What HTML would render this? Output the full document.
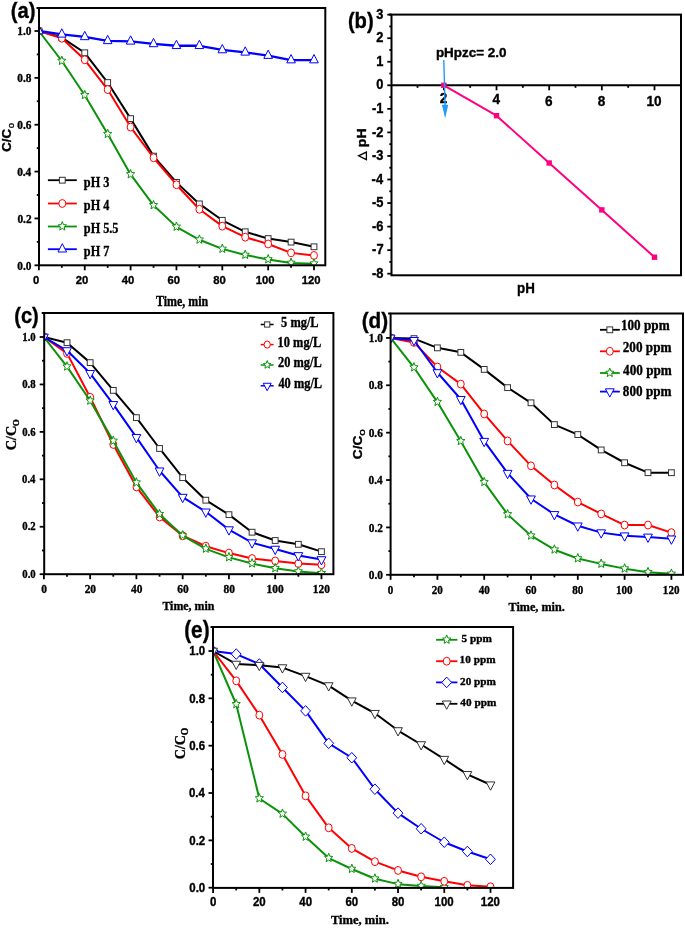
<!DOCTYPE html>
<html><head><meta charset="utf-8"><style>
html,body{margin:0;padding:0;background:#fff;}
svg{display:block;will-change:transform;}
</style></head><body>
<svg width="685" height="928" viewBox="0 0 685 928">
<rect width="685" height="928" fill="#fff"/>
<clipPath id="c1"><rect x="39.00" y="8.00" width="286.30" height="257.30"/></clipPath><g clip-path="url(#c1)">
<polyline points="38.90,31.00 61.83,37.56 84.75,52.79 107.68,82.55 130.60,118.63 153.53,156.12 176.45,182.36 199.38,203.91 222.30,220.31 245.22,231.80 268.15,238.59 291.07,242.10 314.00,246.79" fill="none" stroke="#000" stroke-width="2.0" stroke-linejoin="round"/>
<rect x="36.00" y="28.10" width="5.80" height="5.80" fill="#fff" stroke="#333" stroke-width="1"/>
<rect x="58.93" y="34.66" width="5.80" height="5.80" fill="#fff" stroke="#333" stroke-width="1"/>
<rect x="81.85" y="49.89" width="5.80" height="5.80" fill="#fff" stroke="#333" stroke-width="1"/>
<rect x="104.78" y="79.65" width="5.80" height="5.80" fill="#fff" stroke="#333" stroke-width="1"/>
<rect x="127.70" y="115.73" width="5.80" height="5.80" fill="#fff" stroke="#333" stroke-width="1"/>
<rect x="150.62" y="153.22" width="5.80" height="5.80" fill="#fff" stroke="#333" stroke-width="1"/>
<rect x="173.55" y="179.46" width="5.80" height="5.80" fill="#fff" stroke="#333" stroke-width="1"/>
<rect x="196.47" y="201.01" width="5.80" height="5.80" fill="#fff" stroke="#333" stroke-width="1"/>
<rect x="219.40" y="217.41" width="5.80" height="5.80" fill="#fff" stroke="#333" stroke-width="1"/>
<rect x="242.32" y="228.90" width="5.80" height="5.80" fill="#fff" stroke="#333" stroke-width="1"/>
<rect x="265.25" y="235.69" width="5.80" height="5.80" fill="#fff" stroke="#333" stroke-width="1"/>
<rect x="288.18" y="239.20" width="5.80" height="5.80" fill="#fff" stroke="#333" stroke-width="1"/>
<rect x="311.10" y="243.89" width="5.80" height="5.80" fill="#fff" stroke="#333" stroke-width="1"/>
<polyline points="38.90,31.00 61.83,38.26 84.75,59.82 107.68,89.57 130.60,127.06 153.53,157.76 176.45,184.70 199.38,209.30 222.30,226.17 245.22,237.18 268.15,243.98 291.07,252.88 314.00,255.46" fill="none" stroke="#FF0000" stroke-width="2.0" stroke-linejoin="round"/>
<ellipse cx="38.90" cy="31.00" rx="3.45" ry="3.95" fill="#fff" stroke="#FF0000" stroke-width="1"/>
<ellipse cx="61.83" cy="38.26" rx="3.45" ry="3.95" fill="#fff" stroke="#FF0000" stroke-width="1"/>
<ellipse cx="84.75" cy="59.82" rx="3.45" ry="3.95" fill="#fff" stroke="#FF0000" stroke-width="1"/>
<ellipse cx="107.68" cy="89.57" rx="3.45" ry="3.95" fill="#fff" stroke="#FF0000" stroke-width="1"/>
<ellipse cx="130.60" cy="127.06" rx="3.45" ry="3.95" fill="#fff" stroke="#FF0000" stroke-width="1"/>
<ellipse cx="153.53" cy="157.76" rx="3.45" ry="3.95" fill="#fff" stroke="#FF0000" stroke-width="1"/>
<ellipse cx="176.45" cy="184.70" rx="3.45" ry="3.95" fill="#fff" stroke="#FF0000" stroke-width="1"/>
<ellipse cx="199.38" cy="209.30" rx="3.45" ry="3.95" fill="#fff" stroke="#FF0000" stroke-width="1"/>
<ellipse cx="222.30" cy="226.17" rx="3.45" ry="3.95" fill="#fff" stroke="#FF0000" stroke-width="1"/>
<ellipse cx="245.22" cy="237.18" rx="3.45" ry="3.95" fill="#fff" stroke="#FF0000" stroke-width="1"/>
<ellipse cx="268.15" cy="243.98" rx="3.45" ry="3.95" fill="#fff" stroke="#FF0000" stroke-width="1"/>
<ellipse cx="291.07" cy="252.88" rx="3.45" ry="3.95" fill="#fff" stroke="#FF0000" stroke-width="1"/>
<ellipse cx="314.00" cy="255.46" rx="3.45" ry="3.95" fill="#fff" stroke="#FF0000" stroke-width="1"/>
<polyline points="38.90,31.00 61.83,60.99 84.75,95.20 107.68,134.09 130.60,174.39 153.53,205.32 176.45,226.87 199.38,239.76 222.30,248.90 245.22,254.99 268.15,259.44 291.07,262.96 314.00,263.66" fill="none" stroke="#0A930A" stroke-width="2.0" stroke-linejoin="round"/>
<polygon points="38.90,26.10 40.04,29.09 43.01,29.35 40.75,31.45 41.44,34.60 38.90,32.91 36.36,34.60 37.05,31.45 34.79,29.35 37.76,29.09" fill="#fff" stroke="#0A930A" stroke-width="1"/>
<polygon points="61.83,56.09 62.97,59.08 65.94,59.34 63.68,61.44 64.37,64.59 61.83,62.91 59.28,64.59 59.97,61.44 57.71,59.34 60.68,59.08" fill="#fff" stroke="#0A930A" stroke-width="1"/>
<polygon points="84.75,90.30 85.89,93.29 88.86,93.55 86.60,95.65 87.29,98.80 84.75,97.11 82.21,98.80 82.90,95.65 80.64,93.55 83.61,93.29" fill="#fff" stroke="#0A930A" stroke-width="1"/>
<polygon points="107.68,129.19 108.82,132.18 111.79,132.44 109.53,134.55 110.22,137.69 107.68,136.01 105.13,137.69 105.82,134.55 103.56,132.44 106.53,132.18" fill="#fff" stroke="#0A930A" stroke-width="1"/>
<polygon points="130.60,169.49 131.74,172.48 134.71,172.74 132.45,174.85 133.14,177.99 130.60,176.31 128.06,177.99 128.75,174.85 126.49,172.74 129.46,172.48" fill="#fff" stroke="#0A930A" stroke-width="1"/>
<polygon points="153.53,200.42 154.67,203.41 157.64,203.67 155.38,205.77 156.07,208.92 153.53,207.23 150.98,208.92 151.67,205.77 149.41,203.67 152.38,203.41" fill="#fff" stroke="#0A930A" stroke-width="1"/>
<polygon points="176.45,221.97 177.59,224.96 180.56,225.22 178.30,227.33 178.99,230.48 176.45,228.79 173.91,230.48 174.60,227.33 172.34,225.22 175.31,224.96" fill="#fff" stroke="#0A930A" stroke-width="1"/>
<polygon points="199.38,234.86 200.52,237.85 203.49,238.11 201.23,240.21 201.92,243.36 199.38,241.68 196.83,243.36 197.52,240.21 195.26,238.11 198.23,237.85" fill="#fff" stroke="#0A930A" stroke-width="1"/>
<polygon points="222.30,244.00 223.44,246.99 226.41,247.25 224.15,249.35 224.84,252.50 222.30,250.81 219.76,252.50 220.45,249.35 218.19,247.25 221.16,246.99" fill="#fff" stroke="#0A930A" stroke-width="1"/>
<polygon points="245.22,250.09 246.37,253.08 249.34,253.34 247.08,255.44 247.77,258.59 245.22,256.91 242.68,258.59 243.37,255.44 241.11,253.34 244.08,253.08" fill="#fff" stroke="#0A930A" stroke-width="1"/>
<polygon points="268.15,254.54 269.29,257.53 272.26,257.79 270.00,259.90 270.69,263.04 268.15,261.36 265.61,263.04 266.30,259.90 264.04,257.79 267.01,257.53" fill="#fff" stroke="#0A930A" stroke-width="1"/>
<polygon points="291.07,258.06 292.22,261.05 295.19,261.30 292.93,263.41 293.62,266.56 291.07,264.87 288.53,266.56 289.22,263.41 286.96,261.30 289.93,261.05" fill="#fff" stroke="#0A930A" stroke-width="1"/>
<polygon points="314.00,258.76 315.14,261.75 318.11,262.01 315.85,264.11 316.54,267.26 314.00,265.57 311.46,267.26 312.15,264.11 309.89,262.01 312.86,261.75" fill="#fff" stroke="#0A930A" stroke-width="1"/>
<polyline points="38.90,31.00 61.83,34.28 84.75,36.86 107.68,40.84 130.60,41.31 153.53,43.89 176.45,45.76 199.38,45.76 222.30,49.98 245.22,52.32 268.15,55.60 291.07,60.05 314.00,60.05" fill="none" stroke="#0000FF" stroke-width="2.3" stroke-linejoin="round"/>
<polygon points="38.90,25.50 43.20,33.80 34.60,33.80" fill="#fff" stroke="#0000FF" stroke-width="1"/>
<polygon points="61.83,28.78 66.12,37.08 57.53,37.08" fill="#fff" stroke="#0000FF" stroke-width="1"/>
<polygon points="84.75,31.36 89.05,39.66 80.45,39.66" fill="#fff" stroke="#0000FF" stroke-width="1"/>
<polygon points="107.68,35.34 111.98,43.64 103.38,43.64" fill="#fff" stroke="#0000FF" stroke-width="1"/>
<polygon points="130.60,35.81 134.90,44.11 126.30,44.11" fill="#fff" stroke="#0000FF" stroke-width="1"/>
<polygon points="153.53,38.39 157.83,46.69 149.22,46.69" fill="#fff" stroke="#0000FF" stroke-width="1"/>
<polygon points="176.45,40.26 180.75,48.56 172.15,48.56" fill="#fff" stroke="#0000FF" stroke-width="1"/>
<polygon points="199.38,40.26 203.68,48.56 195.07,48.56" fill="#fff" stroke="#0000FF" stroke-width="1"/>
<polygon points="222.30,44.48 226.60,52.78 218.00,52.78" fill="#fff" stroke="#0000FF" stroke-width="1"/>
<polygon points="245.22,46.82 249.53,55.12 240.92,55.12" fill="#fff" stroke="#0000FF" stroke-width="1"/>
<polygon points="268.15,50.10 272.45,58.40 263.85,58.40" fill="#fff" stroke="#0000FF" stroke-width="1"/>
<polygon points="291.07,54.55 295.38,62.85 286.77,62.85" fill="#fff" stroke="#0000FF" stroke-width="1"/>
<polygon points="314.00,54.55 318.30,62.85 309.70,62.85" fill="#fff" stroke="#0000FF" stroke-width="1"/>
</g>
<rect x="39.00" y="8.00" width="286.30" height="257.30" fill="none" stroke="#000" stroke-width="2"/>
<line x1="36.50" y1="8.00" x2="39.00" y2="8.00" stroke="#000" stroke-width="2" stroke-linecap="butt"/>
<line x1="38.90" y1="265.30" x2="38.90" y2="270.30" stroke="#000" stroke-width="1.8" stroke-linecap="butt"/>
<line x1="61.83" y1="265.30" x2="61.83" y2="267.80" stroke="#000" stroke-width="1.8" stroke-linecap="butt"/>
<line x1="84.75" y1="265.30" x2="84.75" y2="270.30" stroke="#000" stroke-width="1.8" stroke-linecap="butt"/>
<line x1="107.68" y1="265.30" x2="107.68" y2="267.80" stroke="#000" stroke-width="1.8" stroke-linecap="butt"/>
<line x1="130.60" y1="265.30" x2="130.60" y2="270.30" stroke="#000" stroke-width="1.8" stroke-linecap="butt"/>
<line x1="153.53" y1="265.30" x2="153.53" y2="267.80" stroke="#000" stroke-width="1.8" stroke-linecap="butt"/>
<line x1="176.45" y1="265.30" x2="176.45" y2="270.30" stroke="#000" stroke-width="1.8" stroke-linecap="butt"/>
<line x1="199.38" y1="265.30" x2="199.38" y2="267.80" stroke="#000" stroke-width="1.8" stroke-linecap="butt"/>
<line x1="222.30" y1="265.30" x2="222.30" y2="270.30" stroke="#000" stroke-width="1.8" stroke-linecap="butt"/>
<line x1="245.22" y1="265.30" x2="245.22" y2="267.80" stroke="#000" stroke-width="1.8" stroke-linecap="butt"/>
<line x1="268.15" y1="265.30" x2="268.15" y2="270.30" stroke="#000" stroke-width="1.8" stroke-linecap="butt"/>
<line x1="291.07" y1="265.30" x2="291.07" y2="267.80" stroke="#000" stroke-width="1.8" stroke-linecap="butt"/>
<line x1="314.00" y1="265.30" x2="314.00" y2="270.30" stroke="#000" stroke-width="1.8" stroke-linecap="butt"/>
<line x1="34.50" y1="265.30" x2="39.00" y2="265.30" stroke="#000" stroke-width="1.8" stroke-linecap="butt"/>
<line x1="36.80" y1="241.87" x2="39.00" y2="241.87" stroke="#000" stroke-width="1.8" stroke-linecap="butt"/>
<line x1="34.50" y1="218.44" x2="39.00" y2="218.44" stroke="#000" stroke-width="1.8" stroke-linecap="butt"/>
<line x1="36.80" y1="195.01" x2="39.00" y2="195.01" stroke="#000" stroke-width="1.8" stroke-linecap="butt"/>
<line x1="34.50" y1="171.58" x2="39.00" y2="171.58" stroke="#000" stroke-width="1.8" stroke-linecap="butt"/>
<line x1="36.80" y1="148.15" x2="39.00" y2="148.15" stroke="#000" stroke-width="1.8" stroke-linecap="butt"/>
<line x1="34.50" y1="124.72" x2="39.00" y2="124.72" stroke="#000" stroke-width="1.8" stroke-linecap="butt"/>
<line x1="36.80" y1="101.29" x2="39.00" y2="101.29" stroke="#000" stroke-width="1.8" stroke-linecap="butt"/>
<line x1="34.50" y1="77.86" x2="39.00" y2="77.86" stroke="#000" stroke-width="1.8" stroke-linecap="butt"/>
<line x1="36.80" y1="54.43" x2="39.00" y2="54.43" stroke="#000" stroke-width="1.8" stroke-linecap="butt"/>
<line x1="34.50" y1="31.00" x2="39.00" y2="31.00" stroke="#000" stroke-width="1.8" stroke-linecap="butt"/>
<text transform="translate(17.37,269.54) scale(0.963,1)" font-family="'Liberation Serif', serif" font-size="11.76" font-weight="bold" text-anchor="start" fill="#000" stroke="#000" stroke-width="0.35">0.0</text>
<text transform="translate(17.41,222.68) scale(0.963,1)" font-family="'Liberation Serif', serif" font-size="11.76" font-weight="bold" text-anchor="start" fill="#000" stroke="#000" stroke-width="0.35">0.2</text>
<text transform="translate(17.14,175.82) scale(0.963,1)" font-family="'Liberation Serif', serif" font-size="11.76" font-weight="bold" text-anchor="start" fill="#000" stroke="#000" stroke-width="0.35">0.4</text>
<text transform="translate(17.28,128.96) scale(0.963,1)" font-family="'Liberation Serif', serif" font-size="11.76" font-weight="bold" text-anchor="start" fill="#000" stroke="#000" stroke-width="0.35">0.6</text>
<text transform="translate(17.30,82.10) scale(0.963,1)" font-family="'Liberation Serif', serif" font-size="11.76" font-weight="bold" text-anchor="start" fill="#000" stroke="#000" stroke-width="0.35">0.8</text>
<text transform="translate(17.37,35.24) scale(0.963,1)" font-family="'Liberation Serif', serif" font-size="11.76" font-weight="bold" text-anchor="start" fill="#000" stroke="#000" stroke-width="0.35">1.0</text>
<text transform="translate(32.97,284.19) scale(0.998,1)" font-family="'Liberation Sans', sans-serif" font-size="11.3" font-weight="bold" text-anchor="start" fill="#000" stroke="#000" stroke-width="0.35">0</text>
<text transform="translate(75.72,284.19) scale(0.998,1)" font-family="'Liberation Sans', sans-serif" font-size="11.3" font-weight="bold" text-anchor="start" fill="#000" stroke="#000" stroke-width="0.35">20</text>
<text transform="translate(121.68,284.19) scale(0.998,1)" font-family="'Liberation Sans', sans-serif" font-size="11.3" font-weight="bold" text-anchor="start" fill="#000" stroke="#000" stroke-width="0.35">40</text>
<text transform="translate(167.41,284.19) scale(0.998,1)" font-family="'Liberation Sans', sans-serif" font-size="11.3" font-weight="bold" text-anchor="start" fill="#000" stroke="#000" stroke-width="0.35">60</text>
<text transform="translate(213.28,284.19) scale(0.998,1)" font-family="'Liberation Sans', sans-serif" font-size="11.3" font-weight="bold" text-anchor="start" fill="#000" stroke="#000" stroke-width="0.35">80</text>
<text transform="translate(255.83,284.19) scale(0.998,1)" font-family="'Liberation Sans', sans-serif" font-size="11.3" font-weight="bold" text-anchor="start" fill="#000" stroke="#000" stroke-width="0.35">100</text>
<text transform="translate(301.68,284.19) scale(0.998,1)" font-family="'Liberation Sans', sans-serif" font-size="11.3" font-weight="bold" text-anchor="start" fill="#000" stroke="#000" stroke-width="0.35">120</text>
<text transform="translate(10.79,17.71) scale(0.92,1)" font-family="'Liberation Sans', sans-serif" font-size="22.05" font-weight="bold" text-anchor="start" fill="#000" stroke="#000" stroke-width="0.35">(a)</text>
<text transform="translate(156.01,305.89) scale(0.884,1)" font-family="'Liberation Serif', serif" font-size="13.53" font-weight="bold" text-anchor="start" fill="#000" stroke="#000" stroke-width="0.35">Time, min</text>
<text transform="translate(10.94,151.83) rotate(-90) scale(1.037,1)" font-family="'Liberation Sans', sans-serif" font-size="12.77" font-weight="bold" text-anchor="start" fill="#000" stroke="#000" stroke-width="0.35">C/C</text>
<text transform="translate(13.91,128.30) rotate(-90) scale(1.088,1)" font-family="'Liberation Sans', sans-serif" font-size="8.76" font-weight="normal" text-anchor="start" fill="#000" stroke="#000" stroke-width="0.35">o</text>
<line x1="47.90" y1="180.20" x2="76.80" y2="180.20" stroke="#000" stroke-width="1.8" stroke-linecap="butt"/>
<rect x="59.40" y="177.30" width="5.80" height="5.80" fill="#fff" stroke="#333" stroke-width="1"/>
<line x1="47.90" y1="203.50" x2="76.80" y2="203.50" stroke="#FF0000" stroke-width="1.8" stroke-linecap="butt"/>
<ellipse cx="62.30" cy="203.50" rx="3.45" ry="3.95" fill="#fff" stroke="#FF0000" stroke-width="1"/>
<line x1="47.90" y1="226.50" x2="76.80" y2="226.50" stroke="#0A930A" stroke-width="1.8" stroke-linecap="butt"/>
<polygon points="62.30,221.60 63.44,224.59 66.41,224.85 64.15,226.95 64.84,230.10 62.30,228.42 59.76,230.10 60.45,226.95 58.19,224.85 61.16,224.59" fill="#fff" stroke="#0A930A" stroke-width="1"/>
<line x1="47.90" y1="249.20" x2="76.80" y2="249.20" stroke="#0000FF" stroke-width="1.8" stroke-linecap="butt"/>
<polygon points="62.30,243.70 66.60,252.00 58.00,252.00" fill="#fff" stroke="#0000FF" stroke-width="1"/>
<text transform="translate(83.85,186.60) scale(0.89,1)" font-family="'Liberation Serif', serif" font-size="13.73" font-weight="bold" text-anchor="start" fill="#000" stroke="#000" stroke-width="0.35">pH 3</text>
<text transform="translate(83.85,209.90) scale(0.89,1)" font-family="'Liberation Serif', serif" font-size="13.73" font-weight="bold" text-anchor="start" fill="#000" stroke="#000" stroke-width="0.35">pH 4</text>
<text transform="translate(83.85,232.90) scale(0.89,1)" font-family="'Liberation Serif', serif" font-size="13.73" font-weight="bold" text-anchor="start" fill="#000" stroke="#000" stroke-width="0.35">pH 5.5</text>
<text transform="translate(83.85,255.60) scale(0.89,1)" font-family="'Liberation Serif', serif" font-size="13.73" font-weight="bold" text-anchor="start" fill="#000" stroke="#000" stroke-width="0.35">pH 7</text>
<rect x="391.50" y="14.60" width="289.50" height="260.70" fill="none" stroke="#000" stroke-width="2"/>
<line x1="389.00" y1="14.60" x2="391.50" y2="14.60" stroke="#000" stroke-width="2" stroke-linecap="butt"/>
<line x1="391.50" y1="85.30" x2="681.00" y2="85.30" stroke="#000" stroke-width="2" stroke-linecap="butt"/>
<line x1="417.53" y1="85.30" x2="417.53" y2="87.80" stroke="#000" stroke-width="1.8" stroke-linecap="butt"/>
<line x1="443.86" y1="85.30" x2="443.86" y2="90.30" stroke="#000" stroke-width="1.8" stroke-linecap="butt"/>
<line x1="470.19" y1="85.30" x2="470.19" y2="87.80" stroke="#000" stroke-width="1.8" stroke-linecap="butt"/>
<line x1="496.52" y1="85.30" x2="496.52" y2="90.30" stroke="#000" stroke-width="1.8" stroke-linecap="butt"/>
<line x1="522.85" y1="85.30" x2="522.85" y2="87.80" stroke="#000" stroke-width="1.8" stroke-linecap="butt"/>
<line x1="549.18" y1="85.30" x2="549.18" y2="90.30" stroke="#000" stroke-width="1.8" stroke-linecap="butt"/>
<line x1="575.51" y1="85.30" x2="575.51" y2="87.80" stroke="#000" stroke-width="1.8" stroke-linecap="butt"/>
<line x1="601.84" y1="85.30" x2="601.84" y2="90.30" stroke="#000" stroke-width="1.8" stroke-linecap="butt"/>
<line x1="628.17" y1="85.30" x2="628.17" y2="87.80" stroke="#000" stroke-width="1.8" stroke-linecap="butt"/>
<line x1="654.50" y1="85.30" x2="654.50" y2="90.30" stroke="#000" stroke-width="1.8" stroke-linecap="butt"/>
<line x1="387.30" y1="273.70" x2="391.50" y2="273.70" stroke="#000" stroke-width="1.8" stroke-linecap="butt"/>
<line x1="389.30" y1="261.93" x2="391.50" y2="261.93" stroke="#000" stroke-width="1.8" stroke-linecap="butt"/>
<line x1="387.30" y1="250.15" x2="391.50" y2="250.15" stroke="#000" stroke-width="1.8" stroke-linecap="butt"/>
<line x1="389.30" y1="238.38" x2="391.50" y2="238.38" stroke="#000" stroke-width="1.8" stroke-linecap="butt"/>
<line x1="387.30" y1="226.60" x2="391.50" y2="226.60" stroke="#000" stroke-width="1.8" stroke-linecap="butt"/>
<line x1="389.30" y1="214.82" x2="391.50" y2="214.82" stroke="#000" stroke-width="1.8" stroke-linecap="butt"/>
<line x1="387.30" y1="203.05" x2="391.50" y2="203.05" stroke="#000" stroke-width="1.8" stroke-linecap="butt"/>
<line x1="389.30" y1="191.28" x2="391.50" y2="191.28" stroke="#000" stroke-width="1.8" stroke-linecap="butt"/>
<line x1="387.30" y1="179.50" x2="391.50" y2="179.50" stroke="#000" stroke-width="1.8" stroke-linecap="butt"/>
<line x1="389.30" y1="167.72" x2="391.50" y2="167.72" stroke="#000" stroke-width="1.8" stroke-linecap="butt"/>
<line x1="387.30" y1="155.95" x2="391.50" y2="155.95" stroke="#000" stroke-width="1.8" stroke-linecap="butt"/>
<line x1="389.30" y1="144.18" x2="391.50" y2="144.18" stroke="#000" stroke-width="1.8" stroke-linecap="butt"/>
<line x1="387.30" y1="132.40" x2="391.50" y2="132.40" stroke="#000" stroke-width="1.8" stroke-linecap="butt"/>
<line x1="389.30" y1="120.62" x2="391.50" y2="120.62" stroke="#000" stroke-width="1.8" stroke-linecap="butt"/>
<line x1="387.30" y1="108.85" x2="391.50" y2="108.85" stroke="#000" stroke-width="1.8" stroke-linecap="butt"/>
<line x1="389.30" y1="97.08" x2="391.50" y2="97.08" stroke="#000" stroke-width="1.8" stroke-linecap="butt"/>
<line x1="387.30" y1="85.30" x2="391.50" y2="85.30" stroke="#000" stroke-width="1.8" stroke-linecap="butt"/>
<line x1="389.30" y1="73.52" x2="391.50" y2="73.52" stroke="#000" stroke-width="1.8" stroke-linecap="butt"/>
<line x1="387.30" y1="61.75" x2="391.50" y2="61.75" stroke="#000" stroke-width="1.8" stroke-linecap="butt"/>
<line x1="389.30" y1="49.97" x2="391.50" y2="49.97" stroke="#000" stroke-width="1.8" stroke-linecap="butt"/>
<line x1="387.30" y1="38.20" x2="391.50" y2="38.20" stroke="#000" stroke-width="1.8" stroke-linecap="butt"/>
<line x1="389.30" y1="26.42" x2="391.50" y2="26.42" stroke="#000" stroke-width="1.8" stroke-linecap="butt"/>
<line x1="387.30" y1="14.65" x2="391.50" y2="14.65" stroke="#000" stroke-width="1.8" stroke-linecap="butt"/>
<text transform="translate(371.91,277.81) scale(0.922,1)" font-family="'Liberation Sans', sans-serif" font-size="13.98" font-weight="bold" text-anchor="start" fill="#000" stroke="#000" stroke-width="0.35">-8</text>
<text transform="translate(372.09,254.26) scale(0.922,1)" font-family="'Liberation Sans', sans-serif" font-size="13.98" font-weight="bold" text-anchor="start" fill="#000" stroke="#000" stroke-width="0.35">-7</text>
<text transform="translate(371.99,230.71) scale(0.922,1)" font-family="'Liberation Sans', sans-serif" font-size="13.98" font-weight="bold" text-anchor="start" fill="#000" stroke="#000" stroke-width="0.35">-6</text>
<text transform="translate(371.88,207.09) scale(0.922,1)" font-family="'Liberation Sans', sans-serif" font-size="13.98" font-weight="bold" text-anchor="start" fill="#000" stroke="#000" stroke-width="0.35">-5</text>
<text transform="translate(371.60,183.61) scale(0.922,1)" font-family="'Liberation Sans', sans-serif" font-size="13.98" font-weight="bold" text-anchor="start" fill="#000" stroke="#000" stroke-width="0.35">-4</text>
<text transform="translate(371.99,160.05) scale(0.922,1)" font-family="'Liberation Sans', sans-serif" font-size="13.98" font-weight="bold" text-anchor="start" fill="#000" stroke="#000" stroke-width="0.35">-3</text>
<text transform="translate(372.04,136.58) scale(0.922,1)" font-family="'Liberation Sans', sans-serif" font-size="13.98" font-weight="bold" text-anchor="start" fill="#000" stroke="#000" stroke-width="0.35">-2</text>
<text transform="translate(371.88,112.96) scale(0.922,1)" font-family="'Liberation Sans', sans-serif" font-size="13.98" font-weight="bold" text-anchor="start" fill="#000" stroke="#000" stroke-width="0.35">-1</text>
<text transform="translate(376.35,89.41) scale(0.922,1)" font-family="'Liberation Sans', sans-serif" font-size="13.98" font-weight="bold" text-anchor="start" fill="#000" stroke="#000" stroke-width="0.35">0</text>
<text transform="translate(376.19,65.86) scale(0.922,1)" font-family="'Liberation Sans', sans-serif" font-size="13.98" font-weight="bold" text-anchor="start" fill="#000" stroke="#000" stroke-width="0.35">1</text>
<text transform="translate(376.35,42.38) scale(0.922,1)" font-family="'Liberation Sans', sans-serif" font-size="13.98" font-weight="bold" text-anchor="start" fill="#000" stroke="#000" stroke-width="0.35">2</text>
<text transform="translate(376.29,18.75) scale(0.922,1)" font-family="'Liberation Sans', sans-serif" font-size="13.98" font-weight="bold" text-anchor="start" fill="#000" stroke="#000" stroke-width="0.35">3</text>
<text transform="translate(439.83,102.63) scale(0.942,1)" font-family="'Liberation Sans', sans-serif" font-size="14.41" font-weight="bold" text-anchor="start" fill="#000" stroke="#000" stroke-width="0.35">2</text>
<text transform="translate(492.39,104.26) scale(0.942,1)" font-family="'Liberation Sans', sans-serif" font-size="14.41" font-weight="bold" text-anchor="start" fill="#000" stroke="#000" stroke-width="0.35">4</text>
<text transform="translate(545.11,106.16) scale(0.942,1)" font-family="'Liberation Sans', sans-serif" font-size="14.41" font-weight="bold" text-anchor="start" fill="#000" stroke="#000" stroke-width="0.35">6</text>
<text transform="translate(597.76,106.36) scale(0.942,1)" font-family="'Liberation Sans', sans-serif" font-size="14.41" font-weight="bold" text-anchor="start" fill="#000" stroke="#000" stroke-width="0.35">8</text>
<text transform="translate(646.51,106.36) scale(0.942,1)" font-family="'Liberation Sans', sans-serif" font-size="14.41" font-weight="bold" text-anchor="start" fill="#000" stroke="#000" stroke-width="0.35">10</text>
<text transform="translate(347.89,28.04) scale(0.901,1)" font-family="'Liberation Sans', sans-serif" font-size="22.42" font-weight="bold" text-anchor="start" fill="#000" stroke="#000" stroke-width="0.35">(b)</text>
<text transform="translate(517.12,293.24) scale(0.907,1)" font-family="'Liberation Sans', sans-serif" font-size="14.73" font-weight="bold" text-anchor="start" fill="#000" stroke="#000" stroke-width="0.35">pH</text>
<text transform="translate(366.09,147.14) rotate(-90) scale(1.051,1)" font-family="'Liberation Sans', sans-serif" font-size="13.5" font-weight="bold" text-anchor="start" fill="#000" stroke="#000" stroke-width="0.35">pH</text>
<polygon points="366.4,152.1 366.4,159.6 358.6,155.85" fill="none" stroke="#000" stroke-width="1.3" stroke-linejoin="miter"/>
<text transform="translate(435.91,56.65) scale(1.096,1)" font-family="'Liberation Sans', sans-serif" font-size="12.25" font-weight="bold" text-anchor="start" fill="#000" stroke="#000" stroke-width="0.35">pHpzc= 2.0</text>
<polyline points="443.86,85.30 496.52,115.68 549.18,163.01 601.84,209.88 654.50,257.21" fill="none" stroke="#FF0080" stroke-width="2" stroke-linejoin="round"/>
<rect x="441.16" y="82.60" width="5.40" height="5.40" fill="#FF0080"/>
<rect x="493.82" y="112.98" width="5.40" height="5.40" fill="#FF0080"/>
<rect x="546.48" y="160.31" width="5.40" height="5.40" fill="#FF0080"/>
<rect x="599.14" y="207.18" width="5.40" height="5.40" fill="#FF0080"/>
<rect x="651.80" y="254.51" width="5.40" height="5.40" fill="#FF0080"/>
<line x1="443.80" y1="59.90" x2="445.10" y2="106.00" stroke="#1E9BFF" stroke-width="1.4" stroke-linecap="butt"/>
<polygon points="441.9,104.7 448.2,104.7 445.2,118.3" fill="#1E9BFF"/>
<clipPath id="c2"><rect x="44.20" y="313.00" width="289.20" height="261.20"/></clipPath><g clip-path="url(#c2)">
<polyline points="43.90,337.00 67.03,342.69 90.16,362.62 113.29,390.37 136.42,417.65 159.55,448.48 182.68,477.66 205.81,500.19 228.94,514.66 252.07,532.22 275.20,540.52 298.33,544.31 321.46,551.67" fill="none" stroke="#000" stroke-width="2.0" stroke-linejoin="round"/>
<rect x="41.00" y="334.10" width="5.80" height="5.80" fill="#fff" stroke="#333" stroke-width="1"/>
<rect x="64.13" y="339.79" width="5.80" height="5.80" fill="#fff" stroke="#333" stroke-width="1"/>
<rect x="87.26" y="359.72" width="5.80" height="5.80" fill="#fff" stroke="#333" stroke-width="1"/>
<rect x="110.39" y="387.47" width="5.80" height="5.80" fill="#fff" stroke="#333" stroke-width="1"/>
<rect x="133.52" y="414.75" width="5.80" height="5.80" fill="#fff" stroke="#333" stroke-width="1"/>
<rect x="156.65" y="445.58" width="5.80" height="5.80" fill="#fff" stroke="#333" stroke-width="1"/>
<rect x="179.78" y="474.76" width="5.80" height="5.80" fill="#fff" stroke="#333" stroke-width="1"/>
<rect x="202.91" y="497.29" width="5.80" height="5.80" fill="#fff" stroke="#333" stroke-width="1"/>
<rect x="226.04" y="511.76" width="5.80" height="5.80" fill="#fff" stroke="#333" stroke-width="1"/>
<rect x="249.17" y="529.32" width="5.80" height="5.80" fill="#fff" stroke="#333" stroke-width="1"/>
<rect x="272.30" y="537.62" width="5.80" height="5.80" fill="#fff" stroke="#333" stroke-width="1"/>
<rect x="295.43" y="541.41" width="5.80" height="5.80" fill="#fff" stroke="#333" stroke-width="1"/>
<rect x="318.56" y="548.77" width="5.80" height="5.80" fill="#fff" stroke="#333" stroke-width="1"/>
<polyline points="43.90,337.00 67.03,353.37 90.16,397.25 113.29,444.45 136.42,486.91 159.55,517.03 182.68,535.77 205.81,546.21 228.94,553.09 252.07,558.54 275.20,560.92 298.33,563.53 321.46,564.71" fill="none" stroke="#FF0000" stroke-width="2.0" stroke-linejoin="round"/>
<ellipse cx="43.90" cy="337.00" rx="3.45" ry="3.95" fill="#fff" stroke="#FF0000" stroke-width="1"/>
<ellipse cx="67.03" cy="353.37" rx="3.45" ry="3.95" fill="#fff" stroke="#FF0000" stroke-width="1"/>
<ellipse cx="90.16" cy="397.25" rx="3.45" ry="3.95" fill="#fff" stroke="#FF0000" stroke-width="1"/>
<ellipse cx="113.29" cy="444.45" rx="3.45" ry="3.95" fill="#fff" stroke="#FF0000" stroke-width="1"/>
<ellipse cx="136.42" cy="486.91" rx="3.45" ry="3.95" fill="#fff" stroke="#FF0000" stroke-width="1"/>
<ellipse cx="159.55" cy="517.03" rx="3.45" ry="3.95" fill="#fff" stroke="#FF0000" stroke-width="1"/>
<ellipse cx="182.68" cy="535.77" rx="3.45" ry="3.95" fill="#fff" stroke="#FF0000" stroke-width="1"/>
<ellipse cx="205.81" cy="546.21" rx="3.45" ry="3.95" fill="#fff" stroke="#FF0000" stroke-width="1"/>
<ellipse cx="228.94" cy="553.09" rx="3.45" ry="3.95" fill="#fff" stroke="#FF0000" stroke-width="1"/>
<ellipse cx="252.07" cy="558.54" rx="3.45" ry="3.95" fill="#fff" stroke="#FF0000" stroke-width="1"/>
<ellipse cx="275.20" cy="560.92" rx="3.45" ry="3.95" fill="#fff" stroke="#FF0000" stroke-width="1"/>
<ellipse cx="298.33" cy="563.53" rx="3.45" ry="3.95" fill="#fff" stroke="#FF0000" stroke-width="1"/>
<ellipse cx="321.46" cy="564.71" rx="3.45" ry="3.95" fill="#fff" stroke="#FF0000" stroke-width="1"/>
<polyline points="43.90,337.00 67.03,366.65 90.16,400.81 113.29,440.89 136.42,482.64 159.55,514.19 182.68,535.54 205.81,548.82 228.94,557.36 252.07,563.53 275.20,568.27 298.33,571.59 321.46,573.25" fill="none" stroke="#0A930A" stroke-width="2.0" stroke-linejoin="round"/>
<polygon points="43.90,332.10 45.04,335.09 48.01,335.35 45.75,337.45 46.44,340.60 43.90,338.92 41.36,340.60 42.05,337.45 39.79,335.35 42.76,335.09" fill="#fff" stroke="#0A930A" stroke-width="1"/>
<polygon points="67.03,361.75 68.17,364.74 71.14,365.00 68.88,367.10 69.57,370.25 67.03,368.57 64.49,370.25 65.18,367.10 62.92,365.00 65.89,364.74" fill="#fff" stroke="#0A930A" stroke-width="1"/>
<polygon points="90.16,395.91 91.30,398.90 94.27,399.15 92.01,401.26 92.70,404.41 90.16,402.72 87.62,404.41 88.31,401.26 86.05,399.15 89.02,398.90" fill="#fff" stroke="#0A930A" stroke-width="1"/>
<polygon points="113.29,435.99 114.43,438.98 117.40,439.24 115.14,441.35 115.83,444.50 113.29,442.81 110.75,444.50 111.44,441.35 109.18,439.24 112.15,438.98" fill="#fff" stroke="#0A930A" stroke-width="1"/>
<polygon points="136.42,477.74 137.56,480.73 140.53,480.99 138.27,483.09 138.96,486.24 136.42,484.56 133.88,486.24 134.57,483.09 132.31,480.99 135.28,480.73" fill="#fff" stroke="#0A930A" stroke-width="1"/>
<polygon points="159.55,509.29 160.69,512.28 163.66,512.54 161.40,514.64 162.09,517.79 159.55,516.10 157.01,517.79 157.70,514.64 155.44,512.54 158.41,512.28" fill="#fff" stroke="#0A930A" stroke-width="1"/>
<polygon points="182.68,530.64 183.82,533.63 186.79,533.88 184.53,535.99 185.22,539.14 182.68,537.45 180.14,539.14 180.83,535.99 178.57,533.88 181.54,533.63" fill="#fff" stroke="#0A930A" stroke-width="1"/>
<polygon points="205.81,543.92 206.95,546.91 209.92,547.17 207.66,549.27 208.35,552.42 205.81,550.73 203.27,552.42 203.96,549.27 201.70,547.17 204.67,546.91" fill="#fff" stroke="#0A930A" stroke-width="1"/>
<polygon points="228.94,552.46 230.08,555.45 233.05,555.71 230.79,557.81 231.48,560.96 228.94,559.27 226.40,560.96 227.09,557.81 224.83,555.71 227.80,555.45" fill="#fff" stroke="#0A930A" stroke-width="1"/>
<polygon points="252.07,558.63 253.21,561.61 256.18,561.87 253.92,563.98 254.61,567.13 252.07,565.44 249.53,567.13 250.22,563.98 247.96,561.87 250.93,561.61" fill="#fff" stroke="#0A930A" stroke-width="1"/>
<polygon points="275.20,563.37 276.34,566.36 279.31,566.62 277.05,568.72 277.74,571.87 275.20,570.19 272.66,571.87 273.35,568.72 271.09,566.62 274.06,566.36" fill="#fff" stroke="#0A930A" stroke-width="1"/>
<polygon points="298.33,566.69 299.47,569.68 302.44,569.94 300.18,572.04 300.87,575.19 298.33,573.51 295.79,575.19 296.48,572.04 294.22,569.94 297.19,569.68" fill="#fff" stroke="#0A930A" stroke-width="1"/>
<polygon points="321.46,568.35 322.60,571.34 325.57,571.60 323.31,573.70 324.00,576.85 321.46,575.17 318.92,576.85 319.61,573.70 317.35,571.60 320.32,571.34" fill="#fff" stroke="#0A930A" stroke-width="1"/>
<polyline points="43.90,337.00 67.03,350.52 90.16,373.29 113.29,404.36 136.42,437.34 159.55,470.78 182.68,497.11 205.81,511.82 228.94,529.61 252.07,542.65 275.20,549.06 298.33,555.46 321.46,559.49" fill="none" stroke="#0000FF" stroke-width="2.0" stroke-linejoin="round"/>
<polygon points="39.50,334.20 48.30,334.20 43.90,342.50" fill="#fff" stroke="#0000FF" stroke-width="1"/>
<polygon points="62.63,347.72 71.43,347.72 67.03,356.02" fill="#fff" stroke="#0000FF" stroke-width="1"/>
<polygon points="85.76,370.49 94.56,370.49 90.16,378.79" fill="#fff" stroke="#0000FF" stroke-width="1"/>
<polygon points="108.89,401.56 117.69,401.56 113.29,409.86" fill="#fff" stroke="#0000FF" stroke-width="1"/>
<polygon points="132.02,434.54 140.82,434.54 136.42,442.84" fill="#fff" stroke="#0000FF" stroke-width="1"/>
<polygon points="155.15,467.98 163.95,467.98 159.55,476.28" fill="#fff" stroke="#0000FF" stroke-width="1"/>
<polygon points="178.28,494.31 187.08,494.31 182.68,502.61" fill="#fff" stroke="#0000FF" stroke-width="1"/>
<polygon points="201.41,509.02 210.21,509.02 205.81,517.32" fill="#fff" stroke="#0000FF" stroke-width="1"/>
<polygon points="224.54,526.81 233.34,526.81 228.94,535.11" fill="#fff" stroke="#0000FF" stroke-width="1"/>
<polygon points="247.67,539.85 256.47,539.85 252.07,548.15" fill="#fff" stroke="#0000FF" stroke-width="1"/>
<polygon points="270.80,546.26 279.60,546.26 275.20,554.56" fill="#fff" stroke="#0000FF" stroke-width="1"/>
<polygon points="293.93,552.66 302.73,552.66 298.33,560.96" fill="#fff" stroke="#0000FF" stroke-width="1"/>
<polygon points="317.06,556.69 325.86,556.69 321.46,564.99" fill="#fff" stroke="#0000FF" stroke-width="1"/>
</g>
<rect x="44.20" y="313.00" width="289.20" height="261.20" fill="none" stroke="#000" stroke-width="2"/>
<line x1="41.70" y1="313.00" x2="44.20" y2="313.00" stroke="#000" stroke-width="2" stroke-linecap="butt"/>
<line x1="43.90" y1="574.20" x2="43.90" y2="579.20" stroke="#000" stroke-width="1.8" stroke-linecap="butt"/>
<line x1="67.03" y1="574.20" x2="67.03" y2="576.70" stroke="#000" stroke-width="1.8" stroke-linecap="butt"/>
<line x1="90.16" y1="574.20" x2="90.16" y2="579.20" stroke="#000" stroke-width="1.8" stroke-linecap="butt"/>
<line x1="113.29" y1="574.20" x2="113.29" y2="576.70" stroke="#000" stroke-width="1.8" stroke-linecap="butt"/>
<line x1="136.42" y1="574.20" x2="136.42" y2="579.20" stroke="#000" stroke-width="1.8" stroke-linecap="butt"/>
<line x1="159.55" y1="574.20" x2="159.55" y2="576.70" stroke="#000" stroke-width="1.8" stroke-linecap="butt"/>
<line x1="182.68" y1="574.20" x2="182.68" y2="579.20" stroke="#000" stroke-width="1.8" stroke-linecap="butt"/>
<line x1="205.81" y1="574.20" x2="205.81" y2="576.70" stroke="#000" stroke-width="1.8" stroke-linecap="butt"/>
<line x1="228.94" y1="574.20" x2="228.94" y2="579.20" stroke="#000" stroke-width="1.8" stroke-linecap="butt"/>
<line x1="252.07" y1="574.20" x2="252.07" y2="576.70" stroke="#000" stroke-width="1.8" stroke-linecap="butt"/>
<line x1="275.20" y1="574.20" x2="275.20" y2="579.20" stroke="#000" stroke-width="1.8" stroke-linecap="butt"/>
<line x1="298.33" y1="574.20" x2="298.33" y2="576.70" stroke="#000" stroke-width="1.8" stroke-linecap="butt"/>
<line x1="321.46" y1="574.20" x2="321.46" y2="579.20" stroke="#000" stroke-width="1.8" stroke-linecap="butt"/>
<line x1="39.70" y1="574.20" x2="44.20" y2="574.20" stroke="#000" stroke-width="1.8" stroke-linecap="butt"/>
<line x1="42.00" y1="550.48" x2="44.20" y2="550.48" stroke="#000" stroke-width="1.8" stroke-linecap="butt"/>
<line x1="39.70" y1="526.76" x2="44.20" y2="526.76" stroke="#000" stroke-width="1.8" stroke-linecap="butt"/>
<line x1="42.00" y1="503.04" x2="44.20" y2="503.04" stroke="#000" stroke-width="1.8" stroke-linecap="butt"/>
<line x1="39.70" y1="479.32" x2="44.20" y2="479.32" stroke="#000" stroke-width="1.8" stroke-linecap="butt"/>
<line x1="42.00" y1="455.60" x2="44.20" y2="455.60" stroke="#000" stroke-width="1.8" stroke-linecap="butt"/>
<line x1="39.70" y1="431.88" x2="44.20" y2="431.88" stroke="#000" stroke-width="1.8" stroke-linecap="butt"/>
<line x1="42.00" y1="408.16" x2="44.20" y2="408.16" stroke="#000" stroke-width="1.8" stroke-linecap="butt"/>
<line x1="39.70" y1="384.44" x2="44.20" y2="384.44" stroke="#000" stroke-width="1.8" stroke-linecap="butt"/>
<line x1="42.00" y1="360.72" x2="44.20" y2="360.72" stroke="#000" stroke-width="1.8" stroke-linecap="butt"/>
<line x1="39.70" y1="337.00" x2="44.20" y2="337.00" stroke="#000" stroke-width="1.8" stroke-linecap="butt"/>
<text transform="translate(22.28,577.93) scale(0.891,1)" font-family="'Liberation Serif', serif" font-size="12.06" font-weight="bold" text-anchor="start" fill="#000" stroke="#000" stroke-width="0.35">0.0</text>
<text transform="translate(22.32,530.49) scale(0.891,1)" font-family="'Liberation Serif', serif" font-size="12.06" font-weight="bold" text-anchor="start" fill="#000" stroke="#000" stroke-width="0.35">0.2</text>
<text transform="translate(22.06,483.05) scale(0.891,1)" font-family="'Liberation Serif', serif" font-size="12.06" font-weight="bold" text-anchor="start" fill="#000" stroke="#000" stroke-width="0.35">0.4</text>
<text transform="translate(22.19,435.61) scale(0.891,1)" font-family="'Liberation Serif', serif" font-size="12.06" font-weight="bold" text-anchor="start" fill="#000" stroke="#000" stroke-width="0.35">0.6</text>
<text transform="translate(22.21,388.17) scale(0.891,1)" font-family="'Liberation Serif', serif" font-size="12.06" font-weight="bold" text-anchor="start" fill="#000" stroke="#000" stroke-width="0.35">0.8</text>
<text transform="translate(22.28,340.73) scale(0.891,1)" font-family="'Liberation Serif', serif" font-size="12.06" font-weight="bold" text-anchor="start" fill="#000" stroke="#000" stroke-width="0.35">1.0</text>
<text transform="translate(41.24,592.98) scale(0.942,1)" font-family="'Liberation Serif', serif" font-size="12.13" font-weight="bold" text-anchor="start" fill="#000" stroke="#000" stroke-width="0.35">0</text>
<text transform="translate(84.63,592.98) scale(0.942,1)" font-family="'Liberation Serif', serif" font-size="12.13" font-weight="bold" text-anchor="start" fill="#000" stroke="#000" stroke-width="0.35">20</text>
<text transform="translate(131.05,592.98) scale(0.942,1)" font-family="'Liberation Serif', serif" font-size="12.13" font-weight="bold" text-anchor="start" fill="#000" stroke="#000" stroke-width="0.35">40</text>
<text transform="translate(177.19,592.98) scale(0.942,1)" font-family="'Liberation Serif', serif" font-size="12.13" font-weight="bold" text-anchor="start" fill="#000" stroke="#000" stroke-width="0.35">60</text>
<text transform="translate(223.45,592.98) scale(0.942,1)" font-family="'Liberation Serif', serif" font-size="12.13" font-weight="bold" text-anchor="start" fill="#000" stroke="#000" stroke-width="0.35">80</text>
<text transform="translate(266.59,592.98) scale(0.942,1)" font-family="'Liberation Serif', serif" font-size="12.13" font-weight="bold" text-anchor="start" fill="#000" stroke="#000" stroke-width="0.35">100</text>
<text transform="translate(312.85,592.98) scale(0.942,1)" font-family="'Liberation Serif', serif" font-size="12.13" font-weight="bold" text-anchor="start" fill="#000" stroke="#000" stroke-width="0.35">120</text>
<text transform="translate(14.19,323.37) scale(0.884,1)" font-family="'Liberation Sans', sans-serif" font-size="22.75" font-weight="bold" text-anchor="start" fill="#000" stroke="#000" stroke-width="0.35">(c)</text>
<text transform="translate(162.41,610.12) scale(0.936,1)" font-family="'Liberation Serif', serif" font-size="12.71" font-weight="bold" text-anchor="start" fill="#000" stroke="#000" stroke-width="0.35">Time, min</text>
<text transform="translate(16.26,450.29) rotate(-90) scale(1.058,1)" font-family="'Liberation Serif', serif" font-size="13.54" font-weight="bold" text-anchor="start" fill="#000" stroke="#000" stroke-width="0.35">C/C</text>
<text transform="translate(19.32,426.33) rotate(-90) scale(1.156,1)" font-family="'Liberation Serif', serif" font-size="7.74" font-weight="bold" text-anchor="start" fill="#000" stroke="#000" stroke-width="0.35">O</text>
<line x1="260.70" y1="324.50" x2="273.60" y2="324.50" stroke="#000" stroke-width="1.5" stroke-linecap="butt"/>
<rect x="264.59" y="321.89" width="5.22" height="5.22" fill="#fff" stroke="#333" stroke-width="1"/>
<line x1="260.70" y1="344.60" x2="273.60" y2="344.60" stroke="#FF0000" stroke-width="1.5" stroke-linecap="butt"/>
<ellipse cx="267.20" cy="344.60" rx="3.11" ry="3.56" fill="#fff" stroke="#FF0000" stroke-width="1"/>
<line x1="260.70" y1="365.00" x2="273.60" y2="365.00" stroke="#0A930A" stroke-width="1.5" stroke-linecap="butt"/>
<polygon points="267.20,360.59 268.23,363.28 270.90,363.51 268.87,365.41 269.49,368.24 267.20,366.72 264.91,368.24 265.53,365.41 263.50,363.51 266.17,363.28" fill="#fff" stroke="#0A930A" stroke-width="1"/>
<line x1="260.70" y1="385.80" x2="273.60" y2="385.80" stroke="#0000FF" stroke-width="1.5" stroke-linecap="butt"/>
<polygon points="263.24,383.28 271.16,383.28 267.20,390.75" fill="#fff" stroke="#0000FF" stroke-width="1"/>
<text transform="translate(281.10,326.70) scale(0.885,1)" font-family="'Liberation Serif', serif" font-size="14.0" font-weight="bold" text-anchor="start" fill="#000" stroke="#000" stroke-width="0.35">5 mg/L</text>
<text transform="translate(277.61,347.10) scale(0.885,1)" font-family="'Liberation Serif', serif" font-size="14.0" font-weight="bold" text-anchor="start" fill="#000" stroke="#000" stroke-width="0.35">10 mg/L</text>
<text transform="translate(278.08,367.40) scale(0.885,1)" font-family="'Liberation Serif', serif" font-size="14.0" font-weight="bold" text-anchor="start" fill="#000" stroke="#000" stroke-width="0.35">20 mg/L</text>
<text transform="translate(278.43,388.20) scale(0.885,1)" font-family="'Liberation Serif', serif" font-size="14.0" font-weight="bold" text-anchor="start" fill="#000" stroke="#000" stroke-width="0.35">40 mg/L</text>
<clipPath id="c3"><rect x="390.60" y="313.50" width="292.40" height="261.30"/></clipPath><g clip-path="url(#c3)">
<polyline points="390.60,337.90 414.00,338.61 437.40,347.85 460.80,352.35 484.20,369.41 507.60,387.65 531.00,402.81 554.40,424.61 577.80,434.56 601.20,449.95 624.60,462.75 648.00,472.70 671.40,472.70" fill="none" stroke="#000" stroke-width="2.0" stroke-linejoin="round"/>
<rect x="387.70" y="335.00" width="5.80" height="5.80" fill="#fff" stroke="#333" stroke-width="1"/>
<rect x="411.10" y="335.71" width="5.80" height="5.80" fill="#fff" stroke="#333" stroke-width="1"/>
<rect x="434.50" y="344.95" width="5.80" height="5.80" fill="#fff" stroke="#333" stroke-width="1"/>
<rect x="457.90" y="349.45" width="5.80" height="5.80" fill="#fff" stroke="#333" stroke-width="1"/>
<rect x="481.30" y="366.51" width="5.80" height="5.80" fill="#fff" stroke="#333" stroke-width="1"/>
<rect x="504.70" y="384.75" width="5.80" height="5.80" fill="#fff" stroke="#333" stroke-width="1"/>
<rect x="528.10" y="399.91" width="5.80" height="5.80" fill="#fff" stroke="#333" stroke-width="1"/>
<rect x="551.50" y="421.71" width="5.80" height="5.80" fill="#fff" stroke="#333" stroke-width="1"/>
<rect x="574.90" y="431.66" width="5.80" height="5.80" fill="#fff" stroke="#333" stroke-width="1"/>
<rect x="598.30" y="447.05" width="5.80" height="5.80" fill="#fff" stroke="#333" stroke-width="1"/>
<rect x="621.70" y="459.85" width="5.80" height="5.80" fill="#fff" stroke="#333" stroke-width="1"/>
<rect x="645.10" y="469.80" width="5.80" height="5.80" fill="#fff" stroke="#333" stroke-width="1"/>
<rect x="668.50" y="469.80" width="5.80" height="5.80" fill="#fff" stroke="#333" stroke-width="1"/>
<polyline points="390.60,337.90 414.00,342.40 437.40,367.04 460.80,384.10 484.20,413.94 507.60,440.95 531.00,465.83 554.40,485.01 577.80,502.07 601.20,513.92 624.60,525.05 648.00,525.05 671.40,532.63" fill="none" stroke="#FF0000" stroke-width="2.0" stroke-linejoin="round"/>
<ellipse cx="390.60" cy="337.90" rx="3.45" ry="3.95" fill="#fff" stroke="#FF0000" stroke-width="1"/>
<ellipse cx="414.00" cy="342.40" rx="3.45" ry="3.95" fill="#fff" stroke="#FF0000" stroke-width="1"/>
<ellipse cx="437.40" cy="367.04" rx="3.45" ry="3.95" fill="#fff" stroke="#FF0000" stroke-width="1"/>
<ellipse cx="460.80" cy="384.10" rx="3.45" ry="3.95" fill="#fff" stroke="#FF0000" stroke-width="1"/>
<ellipse cx="484.20" cy="413.94" rx="3.45" ry="3.95" fill="#fff" stroke="#FF0000" stroke-width="1"/>
<ellipse cx="507.60" cy="440.95" rx="3.45" ry="3.95" fill="#fff" stroke="#FF0000" stroke-width="1"/>
<ellipse cx="531.00" cy="465.83" rx="3.45" ry="3.95" fill="#fff" stroke="#FF0000" stroke-width="1"/>
<ellipse cx="554.40" cy="485.01" rx="3.45" ry="3.95" fill="#fff" stroke="#FF0000" stroke-width="1"/>
<ellipse cx="577.80" cy="502.07" rx="3.45" ry="3.95" fill="#fff" stroke="#FF0000" stroke-width="1"/>
<ellipse cx="601.20" cy="513.92" rx="3.45" ry="3.95" fill="#fff" stroke="#FF0000" stroke-width="1"/>
<ellipse cx="624.60" cy="525.05" rx="3.45" ry="3.95" fill="#fff" stroke="#FF0000" stroke-width="1"/>
<ellipse cx="648.00" cy="525.05" rx="3.45" ry="3.95" fill="#fff" stroke="#FF0000" stroke-width="1"/>
<ellipse cx="671.40" cy="532.63" rx="3.45" ry="3.95" fill="#fff" stroke="#FF0000" stroke-width="1"/>
<polyline points="390.60,337.90 414.00,367.51 437.40,402.10 460.80,441.19 484.20,482.17 507.60,514.39 531.00,535.71 554.40,549.69 577.80,558.45 601.20,563.90 624.60,568.64 648.00,572.19 671.40,573.85" fill="none" stroke="#0A930A" stroke-width="2.0" stroke-linejoin="round"/>
<polygon points="390.60,333.00 391.74,335.99 394.71,336.25 392.45,338.35 393.14,341.50 390.60,339.81 388.06,341.50 388.75,338.35 386.49,336.25 389.46,335.99" fill="#fff" stroke="#0A930A" stroke-width="1"/>
<polygon points="414.00,362.61 415.14,365.60 418.11,365.86 415.85,367.97 416.54,371.11 414.00,369.43 411.46,371.11 412.15,367.97 409.89,365.86 412.86,365.60" fill="#fff" stroke="#0A930A" stroke-width="1"/>
<polygon points="437.40,397.20 438.54,400.19 441.51,400.45 439.25,402.55 439.94,405.70 437.40,404.01 434.86,405.70 435.55,402.55 433.29,400.45 436.26,400.19" fill="#fff" stroke="#0A930A" stroke-width="1"/>
<polygon points="460.80,436.29 461.94,439.28 464.91,439.54 462.65,441.64 463.34,444.79 460.80,443.10 458.26,444.79 458.95,441.64 456.69,439.54 459.66,439.28" fill="#fff" stroke="#0A930A" stroke-width="1"/>
<polygon points="484.20,477.27 485.34,480.26 488.31,480.52 486.05,482.63 486.74,485.77 484.20,484.09 481.66,485.77 482.35,482.63 480.09,480.52 483.06,480.26" fill="#fff" stroke="#0A930A" stroke-width="1"/>
<polygon points="507.60,509.49 508.74,512.48 511.71,512.74 509.45,514.84 510.14,517.99 507.60,516.31 505.06,517.99 505.75,514.84 503.49,512.74 506.46,512.48" fill="#fff" stroke="#0A930A" stroke-width="1"/>
<polygon points="531.00,530.81 532.14,533.80 535.11,534.06 532.85,536.17 533.54,539.31 531.00,537.63 528.46,539.31 529.15,536.17 526.89,534.06 529.86,533.80" fill="#fff" stroke="#0A930A" stroke-width="1"/>
<polygon points="554.40,544.79 555.54,547.78 558.51,548.04 556.25,550.14 556.94,553.29 554.40,551.60 551.86,553.29 552.55,550.14 550.29,548.04 553.26,547.78" fill="#fff" stroke="#0A930A" stroke-width="1"/>
<polygon points="577.80,553.55 578.94,556.54 581.91,556.80 579.65,558.91 580.34,562.06 577.80,560.37 575.26,562.06 575.95,558.91 573.69,556.80 576.66,556.54" fill="#fff" stroke="#0A930A" stroke-width="1"/>
<polygon points="601.20,559.00 602.34,561.99 605.31,562.25 603.05,564.36 603.74,567.50 601.20,565.82 598.66,567.50 599.35,564.36 597.09,562.25 600.06,561.99" fill="#fff" stroke="#0A930A" stroke-width="1"/>
<polygon points="624.60,563.74 625.74,566.73 628.71,566.99 626.45,569.09 627.14,572.24 624.60,570.56 622.06,572.24 622.75,569.09 620.49,566.99 623.46,566.73" fill="#fff" stroke="#0A930A" stroke-width="1"/>
<polygon points="648.00,567.29 649.14,570.28 652.11,570.54 649.85,572.65 650.54,575.80 648.00,574.11 645.46,575.80 646.15,572.65 643.89,570.54 646.86,570.28" fill="#fff" stroke="#0A930A" stroke-width="1"/>
<polygon points="671.40,568.95 672.54,571.94 675.51,572.20 673.25,574.31 673.94,577.45 671.40,575.77 668.86,577.45 669.55,574.31 667.29,572.20 670.26,571.94" fill="#fff" stroke="#0A930A" stroke-width="1"/>
<polyline points="390.60,337.90 414.00,340.27 437.40,372.49 460.80,399.26 484.20,441.19 507.60,473.17 531.00,498.76 554.40,514.39 577.80,525.76 601.20,532.63 624.60,535.71 648.00,536.90 671.40,538.79" fill="none" stroke="#0000FF" stroke-width="2.0" stroke-linejoin="round"/>
<polygon points="386.20,335.10 395.00,335.10 390.60,343.40" fill="#fff" stroke="#0000FF" stroke-width="1"/>
<polygon points="409.60,337.47 418.40,337.47 414.00,345.77" fill="#fff" stroke="#0000FF" stroke-width="1"/>
<polygon points="433.00,369.69 441.80,369.69 437.40,377.99" fill="#fff" stroke="#0000FF" stroke-width="1"/>
<polygon points="456.40,396.46 465.20,396.46 460.80,404.76" fill="#fff" stroke="#0000FF" stroke-width="1"/>
<polygon points="479.80,438.39 488.60,438.39 484.20,446.69" fill="#fff" stroke="#0000FF" stroke-width="1"/>
<polygon points="503.20,470.37 512.00,470.37 507.60,478.67" fill="#fff" stroke="#0000FF" stroke-width="1"/>
<polygon points="526.60,495.96 535.40,495.96 531.00,504.26" fill="#fff" stroke="#0000FF" stroke-width="1"/>
<polygon points="550.00,511.59 558.80,511.59 554.40,519.89" fill="#fff" stroke="#0000FF" stroke-width="1"/>
<polygon points="573.40,522.96 582.20,522.96 577.80,531.26" fill="#fff" stroke="#0000FF" stroke-width="1"/>
<polygon points="596.80,529.83 605.60,529.83 601.20,538.13" fill="#fff" stroke="#0000FF" stroke-width="1"/>
<polygon points="620.20,532.91 629.00,532.91 624.60,541.21" fill="#fff" stroke="#0000FF" stroke-width="1"/>
<polygon points="643.60,534.10 652.40,534.10 648.00,542.40" fill="#fff" stroke="#0000FF" stroke-width="1"/>
<polygon points="667.00,535.99 675.80,535.99 671.40,544.29" fill="#fff" stroke="#0000FF" stroke-width="1"/>
</g>
<rect x="390.60" y="313.50" width="292.40" height="261.30" fill="none" stroke="#000" stroke-width="2"/>
<line x1="388.10" y1="313.50" x2="390.60" y2="313.50" stroke="#000" stroke-width="2" stroke-linecap="butt"/>
<line x1="390.60" y1="574.80" x2="390.60" y2="579.80" stroke="#000" stroke-width="1.8" stroke-linecap="butt"/>
<line x1="414.00" y1="574.80" x2="414.00" y2="577.30" stroke="#000" stroke-width="1.8" stroke-linecap="butt"/>
<line x1="437.40" y1="574.80" x2="437.40" y2="579.80" stroke="#000" stroke-width="1.8" stroke-linecap="butt"/>
<line x1="460.80" y1="574.80" x2="460.80" y2="577.30" stroke="#000" stroke-width="1.8" stroke-linecap="butt"/>
<line x1="484.20" y1="574.80" x2="484.20" y2="579.80" stroke="#000" stroke-width="1.8" stroke-linecap="butt"/>
<line x1="507.60" y1="574.80" x2="507.60" y2="577.30" stroke="#000" stroke-width="1.8" stroke-linecap="butt"/>
<line x1="531.00" y1="574.80" x2="531.00" y2="579.80" stroke="#000" stroke-width="1.8" stroke-linecap="butt"/>
<line x1="554.40" y1="574.80" x2="554.40" y2="577.30" stroke="#000" stroke-width="1.8" stroke-linecap="butt"/>
<line x1="577.80" y1="574.80" x2="577.80" y2="579.80" stroke="#000" stroke-width="1.8" stroke-linecap="butt"/>
<line x1="601.20" y1="574.80" x2="601.20" y2="577.30" stroke="#000" stroke-width="1.8" stroke-linecap="butt"/>
<line x1="624.60" y1="574.80" x2="624.60" y2="579.80" stroke="#000" stroke-width="1.8" stroke-linecap="butt"/>
<line x1="648.00" y1="574.80" x2="648.00" y2="577.30" stroke="#000" stroke-width="1.8" stroke-linecap="butt"/>
<line x1="671.40" y1="574.80" x2="671.40" y2="579.80" stroke="#000" stroke-width="1.8" stroke-linecap="butt"/>
<line x1="386.10" y1="574.80" x2="390.60" y2="574.80" stroke="#000" stroke-width="1.8" stroke-linecap="butt"/>
<line x1="388.40" y1="551.11" x2="390.60" y2="551.11" stroke="#000" stroke-width="1.8" stroke-linecap="butt"/>
<line x1="386.10" y1="527.42" x2="390.60" y2="527.42" stroke="#000" stroke-width="1.8" stroke-linecap="butt"/>
<line x1="388.40" y1="503.73" x2="390.60" y2="503.73" stroke="#000" stroke-width="1.8" stroke-linecap="butt"/>
<line x1="386.10" y1="480.04" x2="390.60" y2="480.04" stroke="#000" stroke-width="1.8" stroke-linecap="butt"/>
<line x1="388.40" y1="456.35" x2="390.60" y2="456.35" stroke="#000" stroke-width="1.8" stroke-linecap="butt"/>
<line x1="386.10" y1="432.66" x2="390.60" y2="432.66" stroke="#000" stroke-width="1.8" stroke-linecap="butt"/>
<line x1="388.40" y1="408.97" x2="390.60" y2="408.97" stroke="#000" stroke-width="1.8" stroke-linecap="butt"/>
<line x1="386.10" y1="385.28" x2="390.60" y2="385.28" stroke="#000" stroke-width="1.8" stroke-linecap="butt"/>
<line x1="388.40" y1="361.59" x2="390.60" y2="361.59" stroke="#000" stroke-width="1.8" stroke-linecap="butt"/>
<line x1="386.10" y1="337.90" x2="390.60" y2="337.90" stroke="#000" stroke-width="1.8" stroke-linecap="butt"/>
<text transform="translate(368.76,578.88) scale(0.907,1)" font-family="'Liberation Serif', serif" font-size="12.5" font-weight="bold" text-anchor="start" fill="#000" stroke="#000" stroke-width="0.35">0.0</text>
<text transform="translate(368.81,531.50) scale(0.907,1)" font-family="'Liberation Serif', serif" font-size="12.5" font-weight="bold" text-anchor="start" fill="#000" stroke="#000" stroke-width="0.35">0.2</text>
<text transform="translate(368.53,484.11) scale(0.907,1)" font-family="'Liberation Serif', serif" font-size="12.5" font-weight="bold" text-anchor="start" fill="#000" stroke="#000" stroke-width="0.35">0.4</text>
<text transform="translate(368.67,436.73) scale(0.907,1)" font-family="'Liberation Serif', serif" font-size="12.5" font-weight="bold" text-anchor="start" fill="#000" stroke="#000" stroke-width="0.35">0.6</text>
<text transform="translate(368.69,389.35) scale(0.907,1)" font-family="'Liberation Serif', serif" font-size="12.5" font-weight="bold" text-anchor="start" fill="#000" stroke="#000" stroke-width="0.35">0.8</text>
<text transform="translate(368.76,341.97) scale(0.907,1)" font-family="'Liberation Serif', serif" font-size="12.5" font-weight="bold" text-anchor="start" fill="#000" stroke="#000" stroke-width="0.35">1.0</text>
<text transform="translate(387.83,593.58) scale(0.893,1)" font-family="'Liberation Serif', serif" font-size="12.43" font-weight="bold" text-anchor="start" fill="#000" stroke="#000" stroke-width="0.35">0</text>
<text transform="translate(431.83,593.58) scale(0.893,1)" font-family="'Liberation Serif', serif" font-size="12.43" font-weight="bold" text-anchor="start" fill="#000" stroke="#000" stroke-width="0.35">20</text>
<text transform="translate(478.78,593.58) scale(0.893,1)" font-family="'Liberation Serif', serif" font-size="12.43" font-weight="bold" text-anchor="start" fill="#000" stroke="#000" stroke-width="0.35">40</text>
<text transform="translate(525.47,593.58) scale(0.893,1)" font-family="'Liberation Serif', serif" font-size="12.43" font-weight="bold" text-anchor="start" fill="#000" stroke="#000" stroke-width="0.35">60</text>
<text transform="translate(572.27,593.58) scale(0.893,1)" font-family="'Liberation Serif', serif" font-size="12.43" font-weight="bold" text-anchor="start" fill="#000" stroke="#000" stroke-width="0.35">80</text>
<text transform="translate(616.04,593.58) scale(0.893,1)" font-family="'Liberation Serif', serif" font-size="12.43" font-weight="bold" text-anchor="start" fill="#000" stroke="#000" stroke-width="0.35">100</text>
<text transform="translate(662.84,593.58) scale(0.893,1)" font-family="'Liberation Serif', serif" font-size="12.43" font-weight="bold" text-anchor="start" fill="#000" stroke="#000" stroke-width="0.35">120</text>
<text transform="translate(361.66,327.57) scale(0.911,1)" font-family="'Liberation Sans', sans-serif" font-size="22.75" font-weight="bold" text-anchor="start" fill="#000" stroke="#000" stroke-width="0.35">(d)</text>
<text transform="translate(508.51,610.67) scale(0.985,1)" font-family="'Liberation Serif', serif" font-size="12.35" font-weight="bold" text-anchor="start" fill="#000" stroke="#000" stroke-width="0.35">Time, min.</text>
<text transform="translate(361.53,459.14) rotate(-90) scale(1.018,1)" font-family="'Liberation Sans', sans-serif" font-size="13.31" font-weight="bold" text-anchor="start" fill="#000" stroke="#000" stroke-width="0.35">C/C</text>
<text transform="translate(365.21,435.80) rotate(-90) scale(1.355,1)" font-family="'Liberation Sans', sans-serif" font-size="8.76" font-weight="normal" text-anchor="start" fill="#000" stroke="#000" stroke-width="0.35">o</text>
<line x1="600.00" y1="329.80" x2="619.80" y2="329.80" stroke="#000" stroke-width="1.8" stroke-linecap="butt"/>
<rect x="606.90" y="326.90" width="5.80" height="5.80" fill="#fff" stroke="#333" stroke-width="1"/>
<line x1="600.00" y1="351.30" x2="619.80" y2="351.30" stroke="#FF0000" stroke-width="1.8" stroke-linecap="butt"/>
<ellipse cx="609.80" cy="351.30" rx="3.45" ry="3.95" fill="#fff" stroke="#FF0000" stroke-width="1"/>
<line x1="600.00" y1="373.00" x2="619.80" y2="373.00" stroke="#0A930A" stroke-width="1.8" stroke-linecap="butt"/>
<polygon points="609.80,368.10 610.94,371.09 613.91,371.35 611.65,373.45 612.34,376.60 609.80,374.92 607.26,376.60 607.95,373.45 605.69,371.35 608.66,371.09" fill="#fff" stroke="#0A930A" stroke-width="1"/>
<line x1="600.00" y1="391.60" x2="619.80" y2="391.60" stroke="#0000FF" stroke-width="1.8" stroke-linecap="butt"/>
<polygon points="605.40,388.80 614.20,388.80 609.80,397.10" fill="#fff" stroke="#0000FF" stroke-width="1"/>
<text transform="translate(620.94,330.40) scale(0.92,1)" font-family="'Liberation Serif', serif" font-size="14.35" font-weight="bold" text-anchor="start" fill="#000" stroke="#000" stroke-width="0.35">100 ppm</text>
<text transform="translate(622.75,352.10) scale(0.92,1)" font-family="'Liberation Serif', serif" font-size="14.35" font-weight="bold" text-anchor="start" fill="#000" stroke="#000" stroke-width="0.35">200 ppm</text>
<text transform="translate(623.12,374.50) scale(0.92,1)" font-family="'Liberation Serif', serif" font-size="14.35" font-weight="bold" text-anchor="start" fill="#000" stroke="#000" stroke-width="0.35">400 ppm</text>
<text transform="translate(622.85,395.60) scale(0.92,1)" font-family="'Liberation Serif', serif" font-size="14.35" font-weight="bold" text-anchor="start" fill="#000" stroke="#000" stroke-width="0.35">800 ppm</text>
<clipPath id="c4"><rect x="213.00" y="627.00" width="300.10" height="260.90"/></clipPath><g clip-path="url(#c4)">
<polyline points="213.10,651.00 236.22,704.26 259.33,798.46 282.45,813.85 305.57,836.81 328.69,858.11 351.80,869.00 374.92,878.71 398.04,884.15 421.15,886.04 444.27,887.23" fill="none" stroke="#0A930A" stroke-width="2.0" stroke-linejoin="round"/>
<polygon points="213.10,646.10 214.24,649.09 217.21,649.35 214.95,651.45 215.64,654.60 213.10,652.91 210.56,654.60 211.25,651.45 208.99,649.35 211.96,649.09" fill="#fff" stroke="#0A930A" stroke-width="1"/>
<polygon points="236.22,699.36 237.36,702.35 240.33,702.61 238.07,704.71 238.76,707.86 236.22,706.17 233.68,707.86 234.37,704.71 232.10,702.61 235.07,702.35" fill="#fff" stroke="#0A930A" stroke-width="1"/>
<polygon points="259.33,793.56 260.48,796.55 263.45,796.81 261.18,798.92 261.88,802.07 259.33,800.38 256.79,802.07 257.48,798.92 255.22,796.81 258.19,796.55" fill="#fff" stroke="#0A930A" stroke-width="1"/>
<polygon points="282.45,808.95 283.59,811.94 286.56,812.20 284.30,814.30 284.99,817.45 282.45,815.76 279.91,817.45 280.60,814.30 278.34,812.20 281.31,811.94" fill="#fff" stroke="#0A930A" stroke-width="1"/>
<polygon points="305.57,831.91 306.71,834.90 309.68,835.16 307.42,837.26 308.11,840.41 305.57,838.72 303.03,840.41 303.72,837.26 301.46,835.16 304.42,834.90" fill="#fff" stroke="#0A930A" stroke-width="1"/>
<polygon points="328.69,853.21 329.83,856.20 332.80,856.46 330.54,858.57 331.23,861.71 328.69,860.03 326.14,861.71 326.83,858.57 324.57,856.46 327.54,856.20" fill="#fff" stroke="#0A930A" stroke-width="1"/>
<polygon points="351.80,864.10 352.95,867.09 355.91,867.35 353.65,869.45 354.34,872.60 351.80,870.92 349.26,872.60 349.95,869.45 347.69,867.35 350.66,867.09" fill="#fff" stroke="#0A930A" stroke-width="1"/>
<polygon points="374.92,873.81 376.06,876.79 379.03,877.05 376.77,879.16 377.46,882.31 374.92,880.62 372.38,882.31 373.07,879.16 370.81,877.05 373.78,876.79" fill="#fff" stroke="#0A930A" stroke-width="1"/>
<polygon points="398.04,879.25 399.18,882.24 402.15,882.50 399.89,884.60 400.58,887.75 398.04,886.06 395.49,887.75 396.19,884.60 393.92,882.50 396.89,882.24" fill="#fff" stroke="#0A930A" stroke-width="1"/>
<polygon points="421.15,881.14 422.30,884.13 425.27,884.39 423.00,886.50 423.69,889.65 421.15,887.96 418.61,889.65 419.30,886.50 417.04,884.39 420.01,884.13" fill="#fff" stroke="#0A930A" stroke-width="1"/>
<polygon points="444.27,882.33 445.41,885.32 448.38,885.57 446.12,887.68 446.81,890.83 444.27,889.14 441.73,890.83 442.42,887.68 440.16,885.57 443.13,885.32" fill="#fff" stroke="#0A930A" stroke-width="1"/>
<polyline points="213.10,651.00 236.22,680.82 259.33,715.15 282.45,754.44 305.57,795.86 328.69,827.81 351.80,848.41 374.92,861.66 398.04,870.42 421.15,876.81 444.27,881.31 467.39,885.33 490.50,886.75" fill="none" stroke="#FF0000" stroke-width="2.0" stroke-linejoin="round"/>
<ellipse cx="213.10" cy="651.00" rx="3.45" ry="3.95" fill="#fff" stroke="#FF0000" stroke-width="1"/>
<ellipse cx="236.22" cy="680.82" rx="3.45" ry="3.95" fill="#fff" stroke="#FF0000" stroke-width="1"/>
<ellipse cx="259.33" cy="715.15" rx="3.45" ry="3.95" fill="#fff" stroke="#FF0000" stroke-width="1"/>
<ellipse cx="282.45" cy="754.44" rx="3.45" ry="3.95" fill="#fff" stroke="#FF0000" stroke-width="1"/>
<ellipse cx="305.57" cy="795.86" rx="3.45" ry="3.95" fill="#fff" stroke="#FF0000" stroke-width="1"/>
<ellipse cx="328.69" cy="827.81" rx="3.45" ry="3.95" fill="#fff" stroke="#FF0000" stroke-width="1"/>
<ellipse cx="351.80" cy="848.41" rx="3.45" ry="3.95" fill="#fff" stroke="#FF0000" stroke-width="1"/>
<ellipse cx="374.92" cy="861.66" rx="3.45" ry="3.95" fill="#fff" stroke="#FF0000" stroke-width="1"/>
<ellipse cx="398.04" cy="870.42" rx="3.45" ry="3.95" fill="#fff" stroke="#FF0000" stroke-width="1"/>
<ellipse cx="421.15" cy="876.81" rx="3.45" ry="3.95" fill="#fff" stroke="#FF0000" stroke-width="1"/>
<ellipse cx="444.27" cy="881.31" rx="3.45" ry="3.95" fill="#fff" stroke="#FF0000" stroke-width="1"/>
<ellipse cx="467.39" cy="885.33" rx="3.45" ry="3.95" fill="#fff" stroke="#FF0000" stroke-width="1"/>
<ellipse cx="490.50" cy="886.75" rx="3.45" ry="3.95" fill="#fff" stroke="#FF0000" stroke-width="1"/>
<polyline points="213.10,651.00 236.22,654.08 259.33,664.02 282.45,687.45 305.57,710.89 328.69,743.31 351.80,757.75 374.92,789.23 398.04,813.14 421.15,828.76 444.27,842.25 467.39,851.48 490.50,859.30" fill="none" stroke="#0000FF" stroke-width="2.0" stroke-linejoin="round"/>
<polygon points="213.10,645.70 218.00,651.00 213.10,656.30 208.20,651.00" fill="#fff" stroke="#0000FF" stroke-width="1"/>
<polygon points="236.22,648.78 241.12,654.08 236.22,659.38 231.32,654.08" fill="#fff" stroke="#0000FF" stroke-width="1"/>
<polygon points="259.33,658.72 264.23,664.02 259.33,669.32 254.43,664.02" fill="#fff" stroke="#0000FF" stroke-width="1"/>
<polygon points="282.45,682.15 287.35,687.45 282.45,692.75 277.55,687.45" fill="#fff" stroke="#0000FF" stroke-width="1"/>
<polygon points="305.57,705.59 310.47,710.89 305.57,716.19 300.67,710.89" fill="#fff" stroke="#0000FF" stroke-width="1"/>
<polygon points="328.69,738.01 333.58,743.31 328.69,748.61 323.79,743.31" fill="#fff" stroke="#0000FF" stroke-width="1"/>
<polygon points="351.80,752.45 356.70,757.75 351.80,763.05 346.90,757.75" fill="#fff" stroke="#0000FF" stroke-width="1"/>
<polygon points="374.92,783.93 379.82,789.23 374.92,794.53 370.02,789.23" fill="#fff" stroke="#0000FF" stroke-width="1"/>
<polygon points="398.04,807.84 402.94,813.14 398.04,818.44 393.14,813.14" fill="#fff" stroke="#0000FF" stroke-width="1"/>
<polygon points="421.15,823.46 426.05,828.76 421.15,834.06 416.25,828.76" fill="#fff" stroke="#0000FF" stroke-width="1"/>
<polygon points="444.27,836.95 449.17,842.25 444.27,847.55 439.37,842.25" fill="#fff" stroke="#0000FF" stroke-width="1"/>
<polygon points="467.39,846.18 472.29,851.48 467.39,856.78 462.49,851.48" fill="#fff" stroke="#0000FF" stroke-width="1"/>
<polygon points="490.50,854.00 495.40,859.30 490.50,864.60 485.60,859.30" fill="#fff" stroke="#0000FF" stroke-width="1"/>
<polyline points="213.10,651.00 236.22,664.02 259.33,665.20 282.45,667.57 305.57,676.09 328.69,685.56 351.80,700.71 374.92,713.25 398.04,730.53 421.15,744.50 444.27,759.17 467.39,774.32 490.50,784.74" fill="none" stroke="#000" stroke-width="2.0" stroke-linejoin="round"/>
<polygon points="208.70,648.20 217.50,648.20 213.10,656.50" fill="#fff" stroke="#333" stroke-width="1"/>
<polygon points="231.82,661.22 240.62,661.22 236.22,669.52" fill="#fff" stroke="#333" stroke-width="1"/>
<polygon points="254.93,662.40 263.73,662.40 259.33,670.70" fill="#fff" stroke="#333" stroke-width="1"/>
<polygon points="278.05,664.77 286.85,664.77 282.45,673.07" fill="#fff" stroke="#333" stroke-width="1"/>
<polygon points="301.17,673.29 309.97,673.29 305.57,681.59" fill="#fff" stroke="#333" stroke-width="1"/>
<polygon points="324.29,682.76 333.08,682.76 328.69,691.06" fill="#fff" stroke="#333" stroke-width="1"/>
<polygon points="347.40,697.91 356.20,697.91 351.80,706.21" fill="#fff" stroke="#333" stroke-width="1"/>
<polygon points="370.52,710.45 379.32,710.45 374.92,718.75" fill="#fff" stroke="#333" stroke-width="1"/>
<polygon points="393.64,727.73 402.44,727.73 398.04,736.03" fill="#fff" stroke="#333" stroke-width="1"/>
<polygon points="416.75,741.70 425.55,741.70 421.15,750.00" fill="#fff" stroke="#333" stroke-width="1"/>
<polygon points="439.87,756.37 448.67,756.37 444.27,764.67" fill="#fff" stroke="#333" stroke-width="1"/>
<polygon points="462.99,771.52 471.79,771.52 467.39,779.82" fill="#fff" stroke="#333" stroke-width="1"/>
<polygon points="486.10,781.94 494.90,781.94 490.50,790.24" fill="#fff" stroke="#333" stroke-width="1"/>
</g>
<rect x="213.00" y="627.00" width="300.10" height="260.90" fill="none" stroke="#000" stroke-width="2"/>
<line x1="210.50" y1="627.00" x2="213.00" y2="627.00" stroke="#000" stroke-width="2" stroke-linecap="butt"/>
<line x1="213.10" y1="887.90" x2="213.10" y2="892.90" stroke="#000" stroke-width="1.8" stroke-linecap="butt"/>
<line x1="236.22" y1="887.90" x2="236.22" y2="890.40" stroke="#000" stroke-width="1.8" stroke-linecap="butt"/>
<line x1="259.33" y1="887.90" x2="259.33" y2="892.90" stroke="#000" stroke-width="1.8" stroke-linecap="butt"/>
<line x1="282.45" y1="887.90" x2="282.45" y2="890.40" stroke="#000" stroke-width="1.8" stroke-linecap="butt"/>
<line x1="305.57" y1="887.90" x2="305.57" y2="892.90" stroke="#000" stroke-width="1.8" stroke-linecap="butt"/>
<line x1="328.69" y1="887.90" x2="328.69" y2="890.40" stroke="#000" stroke-width="1.8" stroke-linecap="butt"/>
<line x1="351.80" y1="887.90" x2="351.80" y2="892.90" stroke="#000" stroke-width="1.8" stroke-linecap="butt"/>
<line x1="374.92" y1="887.90" x2="374.92" y2="890.40" stroke="#000" stroke-width="1.8" stroke-linecap="butt"/>
<line x1="398.04" y1="887.90" x2="398.04" y2="892.90" stroke="#000" stroke-width="1.8" stroke-linecap="butt"/>
<line x1="421.15" y1="887.90" x2="421.15" y2="890.40" stroke="#000" stroke-width="1.8" stroke-linecap="butt"/>
<line x1="444.27" y1="887.90" x2="444.27" y2="892.90" stroke="#000" stroke-width="1.8" stroke-linecap="butt"/>
<line x1="467.39" y1="887.90" x2="467.39" y2="890.40" stroke="#000" stroke-width="1.8" stroke-linecap="butt"/>
<line x1="490.50" y1="887.90" x2="490.50" y2="892.90" stroke="#000" stroke-width="1.8" stroke-linecap="butt"/>
<line x1="208.50" y1="887.70" x2="213.00" y2="887.70" stroke="#000" stroke-width="1.8" stroke-linecap="butt"/>
<line x1="210.80" y1="864.03" x2="213.00" y2="864.03" stroke="#000" stroke-width="1.8" stroke-linecap="butt"/>
<line x1="208.50" y1="840.36" x2="213.00" y2="840.36" stroke="#000" stroke-width="1.8" stroke-linecap="butt"/>
<line x1="210.80" y1="816.69" x2="213.00" y2="816.69" stroke="#000" stroke-width="1.8" stroke-linecap="butt"/>
<line x1="208.50" y1="793.02" x2="213.00" y2="793.02" stroke="#000" stroke-width="1.8" stroke-linecap="butt"/>
<line x1="210.80" y1="769.35" x2="213.00" y2="769.35" stroke="#000" stroke-width="1.8" stroke-linecap="butt"/>
<line x1="208.50" y1="745.68" x2="213.00" y2="745.68" stroke="#000" stroke-width="1.8" stroke-linecap="butt"/>
<line x1="210.80" y1="722.01" x2="213.00" y2="722.01" stroke="#000" stroke-width="1.8" stroke-linecap="butt"/>
<line x1="208.50" y1="698.34" x2="213.00" y2="698.34" stroke="#000" stroke-width="1.8" stroke-linecap="butt"/>
<line x1="210.80" y1="674.67" x2="213.00" y2="674.67" stroke="#000" stroke-width="1.8" stroke-linecap="butt"/>
<line x1="208.50" y1="651.00" x2="213.00" y2="651.00" stroke="#000" stroke-width="1.8" stroke-linecap="butt"/>
<text transform="translate(189.29,891.98) scale(0.946,1)" font-family="'Liberation Sans', sans-serif" font-size="12.15" font-weight="bold" text-anchor="start" fill="#000" stroke="#000" stroke-width="0.35">0.0</text>
<text transform="translate(189.29,844.64) scale(0.946,1)" font-family="'Liberation Sans', sans-serif" font-size="12.15" font-weight="bold" text-anchor="start" fill="#000" stroke="#000" stroke-width="0.35">0.2</text>
<text transform="translate(188.90,797.30) scale(0.946,1)" font-family="'Liberation Sans', sans-serif" font-size="12.15" font-weight="bold" text-anchor="start" fill="#000" stroke="#000" stroke-width="0.35">0.4</text>
<text transform="translate(189.24,749.96) scale(0.946,1)" font-family="'Liberation Sans', sans-serif" font-size="12.15" font-weight="bold" text-anchor="start" fill="#000" stroke="#000" stroke-width="0.35">0.6</text>
<text transform="translate(189.17,702.62) scale(0.946,1)" font-family="'Liberation Sans', sans-serif" font-size="12.15" font-weight="bold" text-anchor="start" fill="#000" stroke="#000" stroke-width="0.35">0.8</text>
<text transform="translate(189.29,655.28) scale(0.946,1)" font-family="'Liberation Sans', sans-serif" font-size="12.15" font-weight="bold" text-anchor="start" fill="#000" stroke="#000" stroke-width="0.35">1.0</text>
<text transform="translate(209.91,906.47) scale(0.904,1)" font-family="'Liberation Sans', sans-serif" font-size="12.71" font-weight="bold" text-anchor="start" fill="#000" stroke="#000" stroke-width="0.35">0</text>
<text transform="translate(252.98,906.47) scale(0.904,1)" font-family="'Liberation Sans', sans-serif" font-size="12.71" font-weight="bold" text-anchor="start" fill="#000" stroke="#000" stroke-width="0.35">20</text>
<text transform="translate(299.33,906.47) scale(0.904,1)" font-family="'Liberation Sans', sans-serif" font-size="12.71" font-weight="bold" text-anchor="start" fill="#000" stroke="#000" stroke-width="0.35">40</text>
<text transform="translate(345.44,906.47) scale(0.904,1)" font-family="'Liberation Sans', sans-serif" font-size="12.71" font-weight="bold" text-anchor="start" fill="#000" stroke="#000" stroke-width="0.35">60</text>
<text transform="translate(391.70,906.47) scale(0.904,1)" font-family="'Liberation Sans', sans-serif" font-size="12.71" font-weight="bold" text-anchor="start" fill="#000" stroke="#000" stroke-width="0.35">80</text>
<text transform="translate(434.56,906.47) scale(0.904,1)" font-family="'Liberation Sans', sans-serif" font-size="12.71" font-weight="bold" text-anchor="start" fill="#000" stroke="#000" stroke-width="0.35">100</text>
<text transform="translate(480.80,906.47) scale(0.904,1)" font-family="'Liberation Sans', sans-serif" font-size="12.71" font-weight="bold" text-anchor="start" fill="#000" stroke="#000" stroke-width="0.35">120</text>
<text transform="translate(184.16,638.20) scale(0.902,1)" font-family="'Liberation Sans', sans-serif" font-size="23.07" font-weight="bold" text-anchor="start" fill="#000" stroke="#000" stroke-width="0.35">(e)</text>
<text transform="translate(330.90,923.62) scale(0.987,1)" font-family="'Liberation Serif', serif" font-size="12.71" font-weight="bold" text-anchor="start" fill="#000" stroke="#000" stroke-width="0.35">Time, min.</text>
<text transform="translate(184.76,759.28) rotate(-90) scale(0.98,1)" font-family="'Liberation Serif', serif" font-size="14.43" font-weight="bold" text-anchor="start" fill="#000" stroke="#000" stroke-width="0.35">C/C</text>
<text transform="translate(188.00,735.36) rotate(-90) scale(1.0,1)" font-family="'Liberation Serif', serif" font-size="9.67" font-weight="bold" text-anchor="start" fill="#000" stroke="#000" stroke-width="0.35">O</text>
<line x1="436.10" y1="639.80" x2="457.40" y2="639.80" stroke="#0A930A" stroke-width="1.8" stroke-linecap="butt"/>
<polygon points="446.70,634.90 447.84,637.89 450.81,638.15 448.55,640.25 449.24,643.40 446.70,641.71 444.16,643.40 444.85,640.25 442.59,638.15 445.56,637.89" fill="#fff" stroke="#0A930A" stroke-width="1"/>
<line x1="436.10" y1="661.20" x2="457.40" y2="661.20" stroke="#FF0000" stroke-width="1.8" stroke-linecap="butt"/>
<ellipse cx="446.70" cy="661.20" rx="3.45" ry="3.95" fill="#fff" stroke="#FF0000" stroke-width="1"/>
<line x1="436.10" y1="682.40" x2="457.40" y2="682.40" stroke="#0000FF" stroke-width="1.8" stroke-linecap="butt"/>
<polygon points="446.70,677.10 451.60,682.40 446.70,687.70 441.80,682.40" fill="#fff" stroke="#0000FF" stroke-width="1"/>
<line x1="436.10" y1="703.80" x2="457.40" y2="703.80" stroke="#000" stroke-width="1.8" stroke-linecap="butt"/>
<polygon points="442.30,701.00 451.10,701.00 446.70,709.30" fill="#fff" stroke="#333" stroke-width="1"/>
<text transform="translate(461.45,641.80) scale(0.989,1)" font-family="'Liberation Serif', serif" font-size="11.39" font-weight="bold" text-anchor="start" fill="#000" stroke="#000" stroke-width="0.35">5 ppm</text>
<text transform="translate(459.60,663.20) scale(0.989,1)" font-family="'Liberation Serif', serif" font-size="11.39" font-weight="bold" text-anchor="start" fill="#000" stroke="#000" stroke-width="0.35">10 ppm</text>
<text transform="translate(460.03,684.60) scale(0.989,1)" font-family="'Liberation Serif', serif" font-size="11.39" font-weight="bold" text-anchor="start" fill="#000" stroke="#000" stroke-width="0.35">20 ppm</text>
<text transform="translate(460.34,706.00) scale(0.989,1)" font-family="'Liberation Serif', serif" font-size="11.39" font-weight="bold" text-anchor="start" fill="#000" stroke="#000" stroke-width="0.35">40 ppm</text>
</svg>
</body></html>
